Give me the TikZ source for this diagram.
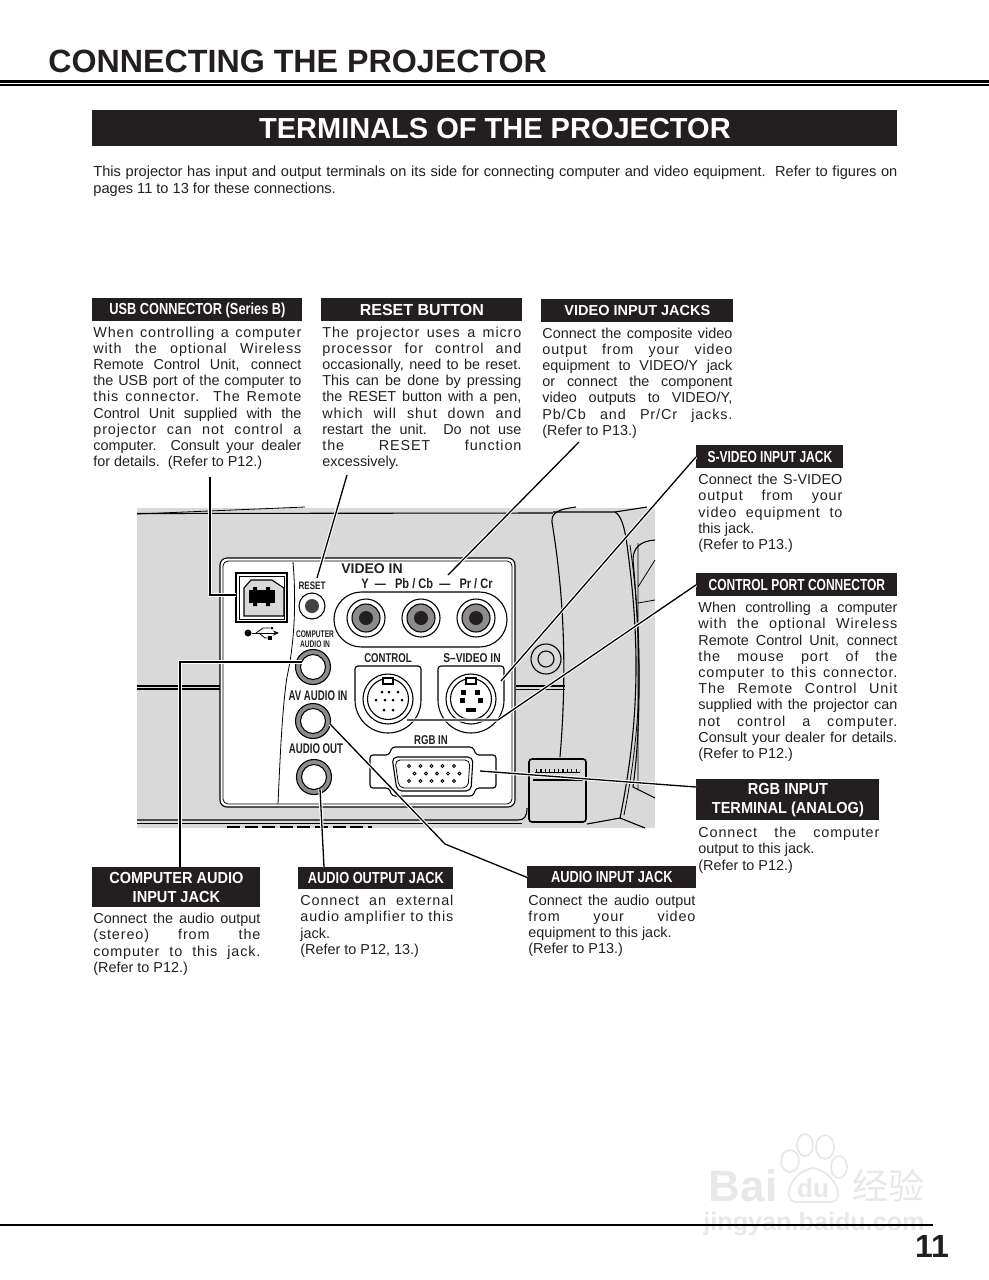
\documentclass[tikz,border=0pt]{standalone}
\usepackage{fontspec}
\setmainfont{Liberation Sans}
\newfontfamily\widefont[FakeStretch=0.91]{Liberation Sans}
\newfontfamily\condfont[FakeStretch=0.8]{Liberation Sans}
\newfontfamily\tightfont[FakeStretch=0.75]{Liberation Sans}
\newfontfamily\slimfont[FakeStretch=0.69]{Liberation Sans}
\newfontfamily\cjkfont{Noto Sans CJK SC}
\usetikzlibrary{arrows.meta,positioning}
\definecolor{headblack}{HTML}{231F20}
\definecolor{bodygray}{HTML}{D9D9D9}
\definecolor{jackgray}{HTML}{8C8C8C}
\definecolor{markgray}{HTML}{E8E8E8}
\newcommand{\jl}[1]{\makebox[\hsize][s]{#1}}
\newcommand{\jw}[1]{\makebox[\hsize][s]{\addfontfeature{LetterSpace=6}#1}}
\tikzset{
  headbar/.style={
    rectangle, fill=headblack, text=white, anchor=north west,
    font=\condfont\bfseries\fontsize{8}{9.8}\selectfont,
    inner sep=0pt, align=center
  },
  bodytext/.style={
    inner sep=0pt, align=flush left, text=headblack,
    font=\fontsize{7.2}{8.1}\selectfont
  },
  panellabel/.style={
    inner sep=0pt, align=center, text=headblack,
    font=\slimfont\bfseries\fontsize{7}{7}\selectfont
  },
  leader/.style={
    preaction={draw=white, line width=1.7pt},
    draw=black, line width=0.65pt
  },
  outline/.style={draw=black, line width=0.55pt},
  thinline/.style={draw=black, line width=0.4pt},
}

\begin{document}
\begin{tikzpicture}[x=0.5pt, y=-0.5pt]
  \useasboundingbox (0,0) rectangle (989,1280);

  % Watermark
  \node[inner sep=0pt, text=markgray, font=\bfseries\fontsize{22}{22}\selectfont] (markbai) at (743,1186) {Bai};
  \node[inner sep=0pt, text=markgray, font=\bfseries\fontsize{13}{13}\selectfont] (markdu) at (813,1188) {du};
  \node[inner sep=0pt, text=markgray, font=\cjkfont\fontsize{18}{18}\selectfont] (markcn) at (888,1186) {经验};
  \node[inner sep=0pt, text=markgray, font=\bfseries\fontsize{12.6}{12.6}\selectfont] (markurl) at (814,1224) {jingyan.baidu.com};
  \draw[markgray, line width=0.9pt] (805,1145) ellipse (8 and 11) (825,1147) ellipse (9 and 12)
    (790,1161) ellipse (9 and 11) (839,1167) ellipse (8 and 11)
    (813,1168) .. controls (790,1172) and (782,1200) .. (795,1202) -- (832,1202) .. controls (845,1200) and (836,1172) .. (813,1168);

  % Page furniture
  \node[inner sep=0pt, anchor=west, text=headblack, font=\bfseries\fontsize{16.1}{16.1}\selectfont] (pagetitle) at (48,61) {CONNECTING THE PROJECTOR};
  \draw[black, line width=1.5pt] (0,81) -- (989,81);
  \draw[black, line width=0.6pt] (0,85) -- (989,85);
  \node[headbar, minimum width=402.5pt, minimum height=18pt, font=\bfseries\fontsize{14.5}{14.5}\selectfont] (titlebar) at (92,110) {TERMINALS OF THE PROJECTOR};
  \node[bodytext, anchor=north west, text width=402pt, font=\fontsize{7.3}{8.5}\selectfont] (intro) at (93,166)
    {\jl{This projector has input and output terminals on its side for connecting computer and video equipment.\ \ Refer to figures on}\\
     pages 11 to 13 for these connections.};
  \draw[black, line width=0.6pt] (0,1225) -- (933,1225);
  \node[inner sep=0pt, text=headblack, font=\bfseries\fontsize{16}{16}\selectfont] (pagenum) at (932,1246) {11};

  % Heads
  \node[headbar, minimum width=105pt, minimum height=11.5pt] (usbhead) at (92,298) {USB CONNECTOR (Series B)};
  \node[headbar, minimum width=100.5pt, minimum height=11.5pt, font=\bfseries\fontsize{8}{9.8}\selectfont] (resethead) at (321,298) {RESET BUTTON};
  \node[headbar, minimum width=96pt, minimum height=11.5pt, font=\bfseries\fontsize{7.25}{9.8}\selectfont] (videohead) at (541,299) {VIDEO INPUT JACKS};
  \node[headbar, minimum width=73.5pt, minimum height=11.5pt, font=\tightfont\bfseries\fontsize{8}{9.8}\selectfont] (svideohead) at (696,445) {S-VIDEO INPUT JACK};
  \node[headbar, minimum width=100.5pt, minimum height=11.5pt, font=\tightfont\bfseries\fontsize{8}{9.8}\selectfont] (controlhead) at (696,573) {CONTROL PORT CONNECTOR};
  \node[headbar, minimum width=91.5pt, minimum height=20.5pt, font=\widefont\bfseries\fontsize{8}{9.8}\selectfont] (rgbhead) at (696,779) {RGB INPUT\\TERMINAL (ANALOG)};
  \node[headbar, minimum width=84pt, minimum height=20pt, font=\widefont\bfseries\fontsize{8}{9.8}\selectfont] (compaudiohead) at (92,867) {COMPUTER AUDIO\\INPUT JACK};
  \node[headbar, minimum width=77.5pt, minimum height=11pt] (audioouthead) at (298,867) {AUDIO OUTPUT JACK};
  \node[headbar, minimum width=84.5pt, minimum height=11pt] (audioinhead) at (527,866) {AUDIO INPUT JACK};

  % Texts
  \node[bodytext, text width=104pt, below right=2.2pt and 0.5pt of usbhead.south west] (usbtext)
    {\jw{When controlling a computer}\\\jw{with the optional Wireless}\\\jl{Remote Control Unit, connect}\\
     \jl{the USB port of the computer to}\\\jw{this connector.\ \ The Remote}\\\jl{Control Unit supplied with the}\\
     \jw{projector can not control a}\\\jl{computer.\ \ Consult your dealer}\\for details.\ \ (Refer to P12.)};
  \node[bodytext, text width=99.5pt, below right=2.2pt and 0.5pt of resethead.south west] (resettext)
    {\jw{The projector uses a micro}\\\jw{processor for control and}\\\jl{occasionally, need to be reset.}\\
     \jl{This can be done by pressing}\\\jl{the RESET button with a pen,}\\\jw{which will shut down and}\\
     \jl{restart the unit.\ \ Do not use}\\\jw{the RESET function}\\excessively.};
  \node[bodytext, text width=95pt, below right=2.2pt and 0.5pt of videohead.south west] (videotext)
    {\jl{Connect the composite video}\\\jw{output from your video}\\\jl{equipment to VIDEO/Y jack}\\
     \jl{or connect the component}\\\jl{video outputs to VIDEO/Y,}\\\jw{Pb/Cb and Pr/Cr jacks.}\\(Refer to P13.)};
  \node[bodytext, text width=72pt, below right=2.5pt and 1pt of svideohead.south west] (svideotext)
    {\jl{Connect the S-VIDEO}\\\jw{output from your}\\\jw{video equipment to}\\this jack.\\(Refer to P13.)};
  \node[bodytext, text width=99.5pt, below right=2.5pt and 1pt of controlhead.south west] (controltext)
    {\jl{When controlling a computer}\\\jw{with the optional Wireless}\\\jl{Remote Control Unit, connect}\\
     \jw{the mouse port of the}\\\jw{computer to this connector.}\\\jw{The Remote Control Unit}\\
     \jl{supplied with the projector can}\\\jw{not control a computer.}\\\jl{Consult your dealer for details.}\\(Refer to P12.)};
  \node[bodytext, text width=90.5pt, below right=3pt and 1pt of rgbhead.south west] (rgbtext)
    {\jw{Connect the computer}\\output to this jack.\\(Refer to P12.)};
  \node[bodytext, text width=83.5pt, below right=2.5pt and 0.5pt of compaudiohead.south west] (compaudiotext)
    {\jl{Connect the audio output}\\\jw{(stereo) from the}\\\jw{computer to this jack.}\\(Refer to P12.)};
  \node[bodytext, text width=76.5pt, below right=2.5pt and 1pt of audioouthead.south west] (audioouttext)
    {\jw{Connect an external}\\\jw{audio amplifier to this}\\jack.\\(Refer to P12, 13.)};
  \node[bodytext, text width=83.5pt, below right=2.7pt and 0.5pt of audioinhead.south west] (audiointext)
    {\jl{Connect the audio output}\\\jw{from your video}\\equipment to this jack.\\(Refer to P13.)};

  % Projector body
  \fill[bodygray] (137,508) rectangle (655,828);
  \draw[outline] (137,513.5) -- (553,513);
  \draw[thinline] (137,514) -- (305,507);
  \draw[outline] (137,686) -- (220,686) (137,689) -- (220,689);
  \draw[outline] (516,686) -- (565,686);
  \draw[thinline] (516,689) -- (565,689);
  \draw[outline] (137,820) -- (518,820) .. controls (524,820) and (527,817) .. (527,808);
  \draw[thinline] (137,823) -- (522,823);
  \draw[outline, dash pattern=on 6.5pt off 2.3pt] (227,827) -- (372,827);
  \draw[outline] (576,507) .. controls (560,509) and (551,512) .. (552,522) .. controls (558,560) and (570,640) .. (560,757);
  \draw[outline] (553,512) -- (615,512) .. controls (622,516) and (625,530) .. (627,545) .. controls (640,640) and (640,720) .. (620,818);
  \draw[outline] (615,512) -- (647,507);
  \draw[thinline] (630,545) .. controls (643,640) and (643,720) .. (624,815);
  \draw[outline] (587,824) -- (620,818) -- (645,828);
  \draw[outline] (655,540) .. controls (640,541) and (633,548) .. (633,560) .. controls (640,640) and (642,720) .. (633,787) -- (655,798);
  \draw[thinline] (638,543) -- (638,790) (655,560) -- (638,587) (638,603) -- (655,600);
  \draw[outline] (546,659) circle (15);
  \draw[outline] (546,659) circle (8);
  \draw[line width=0.8pt, rounded corners=1.5pt] (529,759) rectangle (586,822);
  \draw[outline] (533,780) -- (583,780);
  \draw[black, line width=1.5pt, dash pattern=on 0.6pt off 1.6pt] (536,770) -- (580,770);
  \draw[thinline] (535,772) -- (580,772);

  % Terminal panel
  \draw[outline, fill=white, rounded corners=3.5pt] (220,558) rectangle (515,807);
  \draw[thinline, rounded corners=2.5pt] (223,561) rectangle (512,804);
  \draw[thinline] (293,562) .. controls (297,610) and (293,650) .. (287,677) .. controls (282,710) and (280,760) .. (278,804);

  % USB
  \draw[outline] (236,573) rectangle (287,622);
  \draw[thinline] (239,576) rectangle (284,619);
  \draw[outline, fill=bodygray] (244,588) -- (251,580) -- (272,580) -- (284,588) -- (284,616) -- (244,616) -- cycle;
  \fill[black] (249,590) rectangle (275,603);
  \fill[black] (253,587) rectangle (257,606) (266,587) rectangle (270,606);
  \fill[black] (248,633) circle (3.5);
  \draw[thinline, -{Stealth[length=3pt,width=2.5pt]}] (252,633) -- (279,633);
  \draw[thinline] (256,633) -- (263,628) -- (270,628) (259,633) -- (265,638) -- (270,638);
  \fill[black] (268,636) rectangle (272,640);
  \fill[black] (272,628) circle (1.5);

  % Reset and audio jacks
  \draw[outline] (312,606) circle (13);
  \fill[headblack!85] (312,606) circle (7);
  \draw[outline, rounded corners=13.7pt] (334,592) rectangle (507,647);
  \foreach \jx in {366,421,476} {
    \draw[outline] (\jx,618) circle (19);
    \draw[outline, fill=jackgray] (\jx,618) circle (14);
    \fill[headblack] (\jx,618) circle (7);
  }
  \draw[jackgray, line width=2.2pt] (313,667) circle (15) (313,721) circle (15) (314,777) circle (15);
  \draw[outline] (313,667) circle (17.5) (313,667) circle (12.5) (313,721) circle (17.5) (313,721) circle (12.5)
    (314,777) circle (17.5) (314,777) circle (12.5);

  % Control and S-video
  \draw[outline, rounded corners=1.5pt] (355,700) -- (355,666) -- (421,666) -- (421,700);
  \draw[outline] (355,700) arc[start angle=180, end angle=0, radius=33];
  \draw[outline, rounded corners=1.5pt] (438,700) -- (438,666) -- (504,666) -- (504,700);
  \draw[outline] (438,700) arc[start angle=180, end angle=0, radius=33];
  \foreach \px in {388,471} {
    \draw[outline] (\px,699) circle (25);
    \draw[outline] (\px,699) circle (20.5);
    \draw[outline, fill=white] (\px-5,678) rectangle (\px+5,684);
  }
  \foreach \px/\py in {382/692,389/692,398/692,376/700,385/700,393/700,402/700,384/710,393/710}
    \fill[black] (\px,\py) circle (1.5);
  \foreach \px/\py in {463/692,477/692,462/700,480/700}
    \fill[black] (\px-2.5,\py-2.5) rectangle (\px+2.5,\py+2.5);
  \fill[black] (466,708) rectangle (476,712);

  % RGB
  \draw[outline, rounded corners=1.5pt] (370,755) -- (389,755) -- (392,747) -- (473,747) -- (476,755) -- (496,755) -- (496,788) -- (476,788) -- (473,796) -- (392,796) -- (389,788) -- (370,788) -- cycle;
  \draw[outline, rounded corners=2.5pt, fill=white] (392,757) -- (473,757) -- (471,791) -- (397,791) -- cycle;
  \draw[thinline, rounded corners=2.5pt] (395,760) -- (470,760) -- (468,788) -- (399,788) -- cycle;
  \foreach \px in {409,420.5,431.5,442.5,454} {
    \draw[thinline] (\px,766) circle (1.5);
    \draw[thinline] (\px+5.5,773.5) circle (1.5);
    \draw[thinline] (\px,781) circle (1.5);
  }

  % Panel labels
  \node[panellabel, font=\bfseries\fontsize{7}{7}\selectfont] (videoinlabel) at (372,569) {VIDEO IN};
  \node[panellabel, font=\condfont\bfseries\fontsize{6.9}{6.9}\selectfont] (ypbprlabel) at (427,584) {Y\ \ —\ \ \ Pb / Cb\ \ —\ \ \ Pr / Cr};
  \node[panellabel, font=\tightfont\bfseries\fontsize{5.4}{5.4}\selectfont] (resetlabel) at (312,586) {RESET};
  \node[panellabel, font=\slimfont\bfseries\fontsize{4.8}{4.8}\selectfont] (compinlabel) at (315,639) {COMPUTER\\AUDIO IN};
  \node[panellabel] (avinlabel) at (318,696) {AV AUDIO IN};
  \node[panellabel] (audiooutlabel) at (316,749) {AUDIO OUT};
  \node[panellabel, font=\tightfont\bfseries\fontsize{6.4}{6.4}\selectfont] (controllabel) at (388,658) {CONTROL};
  \node[panellabel, font=\condfont\bfseries\fontsize{6.4}{6.4}\selectfont] (svideolabel) at (472,658) {S–VIDEO IN};
  \node[panellabel, font=\tightfont\bfseries\fontsize{6.4}{6.4}\selectfont] (rgblabel) at (431,740) {RGB IN};

  % Leaders
  \coordinate (usbtop) at (210,477);
  \coordinate (usbjack) at (236,595);
  \coordinate (resettop) at (347,475);
  \coordinate (resetjack) at (317,578);
  \coordinate (videotop) at (579,442);
  \coordinate (videojack) at (448,575);
  \coordinate (svideojack) at (501,681);
  \coordinate (controljack) at (407,720);
  \coordinate (controlbend) at (498,720);
  \coordinate (rgbjack) at (480,771);
  \coordinate (rgbend) at (696,787);
  \coordinate (compjack) at (302,662);
  \coordinate (compbend) at (180,662);
  \coordinate (compend) at (180,867);
  \coordinate (outjack) at (320,789);
  \coordinate (outend) at (324,867);
  \coordinate (injack) at (330,724);
  \coordinate (inbend) at (445,844);

  \draw[leader] (usbtop) |- (usbjack);
  \draw[leader] (resettop) -- (resetjack);
  \draw[leader] (videotop) -- (videojack);
  \draw[leader] (svideohead.west) -- (svideojack);
  \draw[leader] (controlhead.west) -- (controlbend) -- (controljack);
  \draw[leader] (rgbend) -- (rgbjack);
  \draw[leader] (compjack) -- (compbend) -- (compend);
  \draw[leader] (outjack) -- (outend);
  \draw[leader] (injack) -- (inbend) -- (audioinhead.west);

\end{tikzpicture}
\end{document}
